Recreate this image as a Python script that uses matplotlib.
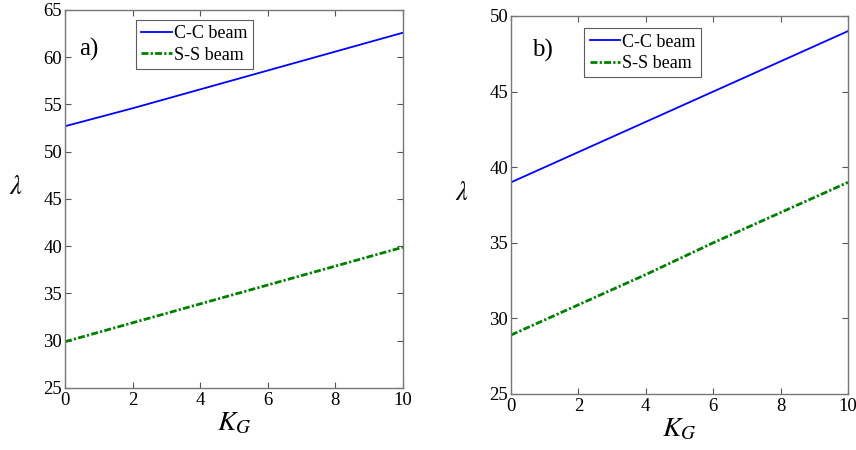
import numpy as np
import matplotlib
matplotlib.use("Agg")
import matplotlib.pyplot as plt

plt.rcParams['font.family'] = ['Liberation Serif', 'DejaVu Serif']
plt.rcParams['mathtext.fontset'] = 'stix'

# data
kg = [0, 2, 4, 6, 8, 10]
cc_a = [52.7, 54.6, 56.6, 58.6, 60.6, 62.6]
ss_a = [29.9, 31.9, 33.9, 35.9, 37.9, 39.9]
cc_b = [39.0, 41.0, 43.0, 45.0, 47.0, 49.0]
ss_b = [28.9, 30.9, 32.9, 35.0, 37.0, 39.0]

xticks = [0, 2, 4, 6, 8, 10]
yticks_a = [25, 30, 35, 40, 45, 50, 55, 60, 65]
yticks_b = [25, 30, 35, 40, 45, 50]

fig = plt.figure(figsize=(8.56, 4.5), dpi=100)
W, H = 856.0, 450.0
ax1 = fig.add_axes([65 / W, 1 - 388 / H, (403 - 65) / W, (388 - 10) / H])
ax2 = fig.add_axes([511 / W, 1 - 394 / H, (848 - 511) / W, (394 - 16) / H])

panels = [(ax1, cc_a, ss_a, yticks_a, 'a)', 0.42, 60.8, (0.21, 0.974)),
          (ax2, cc_b, ss_b, yticks_b, 'b)', 0.62, 47.75, (0.217, 0.968))]

for ax, cc, ss, yt, tag, xtag, ytag, anchor in panels:
    ax.plot(kg, cc, color='#0000ff', lw=1.3, label='C-C beam')
    ax.plot(kg, ss, color='#008000', lw=2.0, ls=(0, (2.5, 0.8, 0.8, 0.8)), label='S-S beam')
    ax.set_xlim(0, 10)
    ax.set_ylim(yt[0], yt[-1])
    ax.set_xticks(xticks)
    ax.set_yticks(yt)
    ax.tick_params(direction='in', top=True, right=True, labelsize=13.5,
                   length=4, color='#555555')
    ax.tick_params(axis='x', pad=3)
    ax.tick_params(axis='y', pad=2)
    for s in ax.spines.values():
        s.set_color('#777777')
        s.set_linewidth(1.0)
    ax.set_xlabel('$K_G$', fontsize=20, labelpad=1)
    ax.set_ylabel(r'$\lambda$', fontsize=19, rotation=0, labelpad=20)
    ax.text(xtag, ytag, tag, fontsize=18, va='center')
    leg = ax.legend(loc='upper left', bbox_to_anchor=anchor, fontsize=13,
                    frameon=True, fancybox=False, handlelength=1.7,
                    handletextpad=0.1, borderpad=0.3, labelspacing=0.25,
                    borderaxespad=0)
    leg.get_frame().set_edgecolor('#333333')
    leg.get_frame().set_linewidth(0.8)

fig.savefig('out.png', dpi=100)
